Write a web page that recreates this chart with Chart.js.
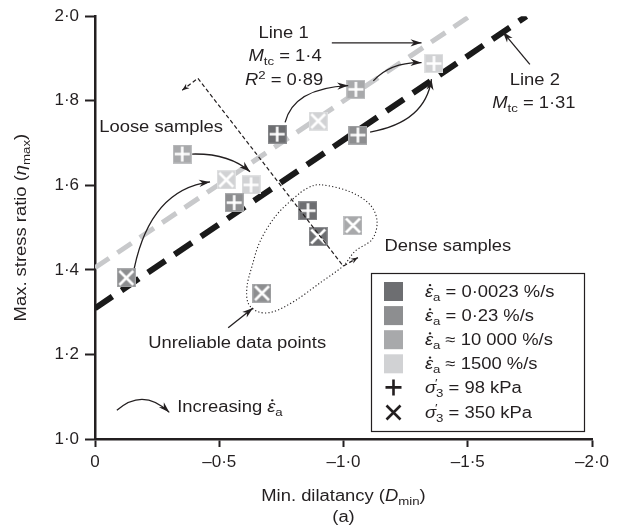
<!DOCTYPE html>
<html><head><meta charset="utf-8">
<script src="https://cdn.jsdelivr.net/npm/chart.js@4/dist/chart.umd.min.js"></script>
<style>html,body{margin:0;padding:0;background:#fff;}#wrap{width:626px;height:530px;}</style>
</head><body><div id="wrap"><canvas id="c" width="626" height="530"></canvas></div>
<script>
// ---------- DATA ----------
const xTickValues = [0, -0.5, -1, -1.5, -2];
const xTickLabels = ['0', '–0·5', '–1·0', '–1·5', '–2·0'];
const yTickValues = [1.0, 1.2, 1.4, 1.6, 1.8, 2.0];
const yTickLabels = ['1·0', '1·2', '1·4', '1·6', '1·8', '2·0'];

const rateLabels = ['0·0023 %/s', '0·23 %/s', '10 000 %/s', '1500 %/s'];
const rateRelations = ['=', '=', '≈', '≈'];
const stressLabels = ['98 kPa', '350 kPa'];

// D_min (x) and eta_max (y) per strain rate / confining stress
const dRate0023_98 = [-0.733, -0.857];  const eRate0023_98 = [1.721, 1.540];
const dRate0023_350 = [-0.898];         const eRate0023_350 = [1.479];
const dRate023_98 = [-0.560, -1.058];   const eRate023_98 = [1.559, 1.719];
const dRate023_350 = [-0.126, -0.672];  const eRate023_350 = [1.381, 1.345];
const dRate10000_98 = [-0.351, -1.050]; const eRate10000_98 = [1.674, 1.827];
const dRate10000_350 = [-1.038];        const eRate10000_350 = [1.505];
const dRate1500_98 = [-0.628, -1.364];  const eRate1500_98 = [1.601, 1.888];
const dRate1500_350 = [-0.528, -0.898]; const eRate1500_350 = [1.613, 1.752];

// fitted lines (end points)
const line1D = [0, -1.508]; const line1Eta = [1.405, 2.0];
const line2D = [0, -1.736]; const line2Eta = [1.309, 2.0];

// ---------- STYLE ----------
const INK = '#231f20';
const FAM = '"Liberation Sans", Arial, Helvetica, sans-serif';
const rateColors = ['#6d6e71', '#8d8e90', '#a8a9ab', '#d1d2d4'];
const rateBorders = ['#8e8f92', '#a9aaac', '#bfc0c2', '#e0e1e2'];
const SX = 1.15; // horizontal text stretch

function makeMarker(i, sym) {
  const c = document.createElement('canvas');
  c.width = 19; c.height = 19;
  const g = c.getContext('2d');
  g.fillStyle = rateBorders[i]; g.fillRect(0, 0, 19, 19);
  g.fillStyle = rateColors[i]; g.fillRect(1, 1, 17, 17);
  g.strokeStyle = '#ffffff'; g.lineWidth = 2.6; g.lineCap = 'butt';
  g.beginPath();
  if (sym === '+') { g.moveTo(9.5, 2); g.lineTo(9.5, 17); g.moveTo(2, 9.5); g.lineTo(17, 9.5); }
  else { g.moveTo(2.5, 2.5); g.lineTo(16.5, 16.5); g.moveTo(16.5, 2.5); g.lineTo(2.5, 16.5); }
  g.stroke();
  return c;
}
function pts(xs, ys) { return xs.map((x, i) => ({ x: x, y: ys[i] })); }
function series(xs, ys, rate, sym) {
  return { type: 'scatter', data: pts(xs, ys), pointStyle: makeMarker(rate, sym), pointRadius: 9,
    pointHoverRadius: 9, showLine: false, order: 1 };
}
function lookup(vals, labels, v) {
  const i = vals.findIndex(t => Math.abs(t - v) < 1e-6);
  return i < 0 ? '' : labels[i];
}

// ---------- ANNOTATIONS (data units) ----------
const annotTexts = [
  { at: [-0.759, 1.961], align: 'center', runs: [{ t: 'Line 1' }] },
  { at: [-0.765, 1.907], align: 'center', runs: [{ t: 'M', it: 1 }, { t: 'tc', sub: 1 }, { t: ' = 1·4' }] },
  { at: [-0.761, 1.850], align: 'center', runs: [{ t: 'R', it: 1 }, { t: '2', sup: 1 }, { t: ' = 0·89' }] },
  { at: [-0.266, 1.739], align: 'center', runs: [{ t: 'Loose samples' }] },
  { at: [-1.770, 1.851], align: 'center', runs: [{ t: 'Line 2' }] },
  { at: [-1.766, 1.796], align: 'center', runs: [{ t: 'M', it: 1 }, { t: 'tc', sub: 1 }, { t: ' = 1·31' }] },
  { at: [-1.420, 1.458], align: 'center', runs: [{ t: 'Dense samples' }] },
  { at: [-0.572, 1.229], align: 'center', runs: [{ t: 'Unreliable data points' }] },
  { at: [-0.331, 1.078], align: 'left', runs: [{ t: 'Increasing ' }, { t: 'ε', it: 1, dot: 1 }, { t: 'a', sub: 1 }] }
];
const straightArrows = [
  { from: [-0.953, 1.937], to: [-1.314, 1.937] },
  { from: [-1.750, 1.886], to: [-1.641, 1.963] },
  { from: [-0.536, 1.263], to: [-0.636, 1.310] }
];
const curvedArrows = [
  { from: [-0.391, 1.674], ctrl: [-0.540, 1.676], to: [-0.624, 1.632] },
  { from: [-0.158, 1.404], ctrl: [-0.225, 1.590], to: [-0.463, 1.608] },
  { from: [-0.765, 1.749], ctrl: [-0.800, 1.830], to: [-1.019, 1.836] },
  { from: [-1.120, 1.847], ctrl: [-1.190, 1.892], to: [-1.314, 1.890] },
  { from: [-1.107, 1.726], ctrl: [-1.330, 1.749], to: [-1.354, 1.851] },
  { from: [-0.088, 1.068], ctrl: [-0.194, 1.122], to: [-0.299, 1.063] }
];
const dividerPath = [[-0.351, 1.825], [-0.414, 1.853], [-0.999, 1.409], [-1.058, 1.429]];
const denseOutline = [
  [-0.914, 1.601], [-1.026, 1.585], [-1.107, 1.554], [-1.135, 1.514], [-1.115, 1.472], [-1.046, 1.444],
  [-0.998, 1.409], [-0.905, 1.369], [-0.805, 1.327], [-0.717, 1.301], [-0.656, 1.301], [-0.616, 1.322],
  [-0.612, 1.362], [-0.632, 1.409], [-0.664, 1.467], [-0.725, 1.526], [-0.797, 1.568], [-0.857, 1.594]
];

// ---------- DRAW HELPERS ----------
function rich(ctx, runs, x, y, align, size) {
  const base = y + size * 0.36;
  const items = runs.map(r => {
    const s = (r.sub || r.sup) ? size * 0.72 : size;
    const font = (r.it ? 'italic ' : '') + s + 'px ' + FAM;
    ctx.font = font;
    return Object.assign({}, r, { font: font, mw: ctx.measureText(r.t).width });
  });
  let w = 0;
  items.forEach(it => { if (!it.noadv) w += it.mw; });
  const cx = align === 'center' ? x - w * SX / 2 : align === 'right' ? x - w * SX : x;
  ctx.save();
  ctx.fillStyle = INK; ctx.textBaseline = 'alphabetic'; ctx.textAlign = 'left';
  ctx.translate(cx, base); ctx.scale(SX, 1);
  let ax = 0;
  for (const it of items) {
    ctx.font = it.font;
    const dy = it.sub ? size * 0.26 : it.sup ? -size * 0.4 : 0;
    ctx.fillText(it.t, ax + (it.dx || 0), dy);
    if (it.dot) { ctx.beginPath(); ctx.arc(ax + it.mw * 0.62, -size * 0.72, size * 0.07, 0, Math.PI * 2); ctx.fill(); }
    if (!it.noadv) ax += it.mw;
  }
  ctx.restore();
}
function head(ctx, tx, ty, ang, len, half) {
  ctx.save(); ctx.translate(tx, ty); ctx.rotate(ang);
  ctx.beginPath(); ctx.moveTo(0, 0); ctx.lineTo(-len, -half); ctx.lineTo(-len * 0.7, 0); ctx.lineTo(-len, half);
  ctx.closePath(); ctx.fill(); ctx.restore();
}

const annotPlugin = {
  id: 'annot',
  afterDraw(chart) {
    const ctx = chart.ctx, xs = chart.scales.x, ys = chart.scales.y, ca = chart.chartArea;
    const P = p => [xs.getPixelForValue(p[0]), ys.getPixelForValue(p[1])];
    ctx.save();
    ctx.strokeStyle = INK; ctx.fillStyle = INK;

    // dense outline (dotted)
    const o = denseOutline.map(P), n = o.length;
    ctx.beginPath(); ctx.lineWidth = 1.1; ctx.setLineDash([1.2, 2.2]);
    ctx.moveTo(o[0][0], o[0][1]);
    for (let i = 0; i < n; i++) {
      const p0 = o[(i - 1 + n) % n], p1 = o[i], p2 = o[(i + 1) % n], p3 = o[(i + 2) % n];
      ctx.bezierCurveTo(p1[0] + (p2[0] - p0[0]) / 6, p1[1] + (p2[1] - p0[1]) / 6,
        p2[0] - (p3[0] - p1[0]) / 6, p2[1] - (p3[1] - p1[1]) / 6, p2[0], p2[1]);
    }
    ctx.stroke();

    // divider (dashed)
    const d = dividerPath.map(P);
    ctx.beginPath(); ctx.lineWidth = 1.2; ctx.setLineDash([4, 2.6]);
    ctx.moveTo(d[0][0], d[0][1]);
    for (let i = 1; i < d.length; i++) ctx.lineTo(d[i][0], d[i][1]);
    ctx.stroke(); ctx.setLineDash([]);
    head(ctx, d[0][0], d[0][1], Math.atan2(d[0][1] - d[1][1], d[0][0] - d[1][0]), 7, 2.8);
    const L = d.length - 1;
    head(ctx, d[L][0], d[L][1], Math.atan2(d[L][1] - d[L - 1][1], d[L][0] - d[L - 1][0]), 7, 2.8);

    // straight arrows
    ctx.lineWidth = 1.3;
    for (const a of straightArrows) {
      const f = P(a.from), t = P(a.to);
      ctx.beginPath(); ctx.moveTo(f[0], f[1]); ctx.lineTo(t[0], t[1]); ctx.stroke();
      head(ctx, t[0], t[1], Math.atan2(t[1] - f[1], t[0] - f[0]), 11, 3.6);
    }
    // curved arrows
    for (const a of curvedArrows) {
      const f = P(a.from), c = P(a.ctrl), t = P(a.to);
      ctx.beginPath(); ctx.moveTo(f[0], f[1]); ctx.quadraticCurveTo(c[0], c[1], t[0], t[1]); ctx.stroke();
      head(ctx, t[0], t[1], Math.atan2(t[1] - c[1], t[0] - c[0]), 11, 3.6);
    }
    // texts
    for (const tx of annotTexts) { const p = P(tx.at); rich(ctx, tx.runs, p[0], p[1], tx.align, 16); }

    // legend
    const bw = 213, bh = 158;
    const bx = ca.right - 8 - bw, by = ca.bottom - 8 - bh;
    ctx.fillStyle = '#ffffff'; ctx.fillRect(bx, by, bw, bh);
    ctx.strokeStyle = INK; ctx.lineWidth = 1.2; ctx.strokeRect(bx + 0.5, by + 0.5, bw, bh);
    const rowY = i => by + 18 + 24.1 * i;
    for (let i = 0; i < 4; i++) {
      ctx.fillStyle = rateColors[i]; ctx.fillRect(bx + 13, rowY(i) - 9, 19, 19);
      rich(ctx, [{ t: 'ε', it: 1, dot: 1 }, { t: 'a', sub: 1 }, { t: ' ' + rateRelations[i] + ' ' + rateLabels[i] }],
        bx + 54, rowY(i), 'left', 16);
    }
    ctx.strokeStyle = INK; ctx.lineWidth = 2.6;
    const sx = bx + 22.5;
    let yy = rowY(4);
    ctx.beginPath(); ctx.moveTo(sx - 8, yy); ctx.lineTo(sx + 8, yy); ctx.moveTo(sx, yy - 8); ctx.lineTo(sx, yy + 8); ctx.stroke();
    yy = rowY(5) + 1;
    ctx.beginPath(); ctx.moveTo(sx - 7, yy - 7); ctx.lineTo(sx + 7, yy + 7); ctx.moveTo(sx + 7, yy - 7); ctx.lineTo(sx - 7, yy + 7); ctx.stroke();
    for (let i = 0; i < 2; i++) {
      rich(ctx, [{ t: 'σ', it: 1 }, { t: '′', sup: 1, noadv: 1, dx: -1 }, { t: '3', sub: 1 }, { t: ' = ' + stressLabels[i] }],
        bx + 54, rowY(4 + i) + (i ? 1 : 0), 'left', 16);
    }

    // axis titles
    const midX = (ca.left + ca.right) / 2;
    rich(ctx, [{ t: 'Min. dilatancy (' }, { t: 'D', it: 1 }, { t: 'min', sub: 1 }, { t: ')' }], midX, 495, 'center', 16);
    rich(ctx, [{ t: '(a)' }], midX, 516, 'center', 16);
    ctx.save();
    ctx.translate(20, (ca.top + ca.bottom) / 2); ctx.rotate(-Math.PI / 2);
    rich(ctx, [{ t: 'Max. stress ratio (' }, { t: 'η', it: 1 }, { t: 'max', sub: 1 }, { t: ')' }], 0, 0, 'center', 16);
    ctx.restore();
    ctx.restore();
  }
};

const axisCommon = (tickLen) => ({
  type: 'linear',
  grid: { display: true, drawOnChartArea: false, drawTicks: true, tickLength: tickLen, tickWidth: 2, tickColor: INK, color: INK },
  border: { display: true, width: 2.5, color: INK }
});

new Chart(document.getElementById('c'), {
  data: {
    datasets: [
      { type: 'line', data: pts(line1D, line1Eta), borderColor: '#c8c9cb', borderWidth: 5, borderDash: [17, 10],
        pointRadius: 0, fill: false, order: 3, borderCapStyle: 'butt' },
      { type: 'line', data: pts(line2D, line2Eta), borderColor: '#1a1a1a', borderWidth: 6, borderDash: [21, 11],
        pointRadius: 0, fill: false, order: 2, borderCapStyle: 'butt' },
      series(dRate023_350, eRate023_350, 1, 'x'),
      series(dRate10000_98, eRate10000_98, 2, '+'),
      series(dRate023_98, eRate023_98, 1, '+'),
      series(dRate1500_350, eRate1500_350, 3, 'x'),
      series(dRate1500_98, eRate1500_98, 3, '+'),
      series(dRate0023_98, eRate0023_98, 0, '+'),
      series(dRate0023_350, eRate0023_350, 0, 'x'),
      series(dRate10000_350, eRate10000_350, 2, 'x')
    ]
  },
  options: {
    responsive: false, animation: false, devicePixelRatio: 1,
    layout: { padding: { top: 13, right: 34, left: 0, bottom: 0 } },
    plugins: { legend: { display: false }, tooltip: { enabled: false } },
    scales: {
      x: Object.assign(axisCommon(8), {
        min: -2, max: 0, reverse: true,
        afterBuildTicks: s => { s.ticks = xTickValues.map(v => ({ value: v })); },
        afterFit: s => { s.height = 91; },
        ticks: { font: { family: FAM, size: 17 }, color: INK, padding: 5, maxRotation: 0, autoSkip: false,
          callback: v => lookup(xTickValues, xTickLabels, v) }
      }),
      y: Object.assign(axisCommon(10), {
        min: 1, max: 2,
        afterBuildTicks: s => { s.ticks = yTickValues.map(v => ({ value: v })); },
        afterFit: s => { s.width = 95; },
        ticks: { font: { family: FAM, size: 17 }, color: INK, padding: 6, autoSkip: false,
          callback: v => lookup(yTickValues, yTickLabels, v) }
      })
    }
  },
  plugins: [annotPlugin]
});
</script></body></html>
